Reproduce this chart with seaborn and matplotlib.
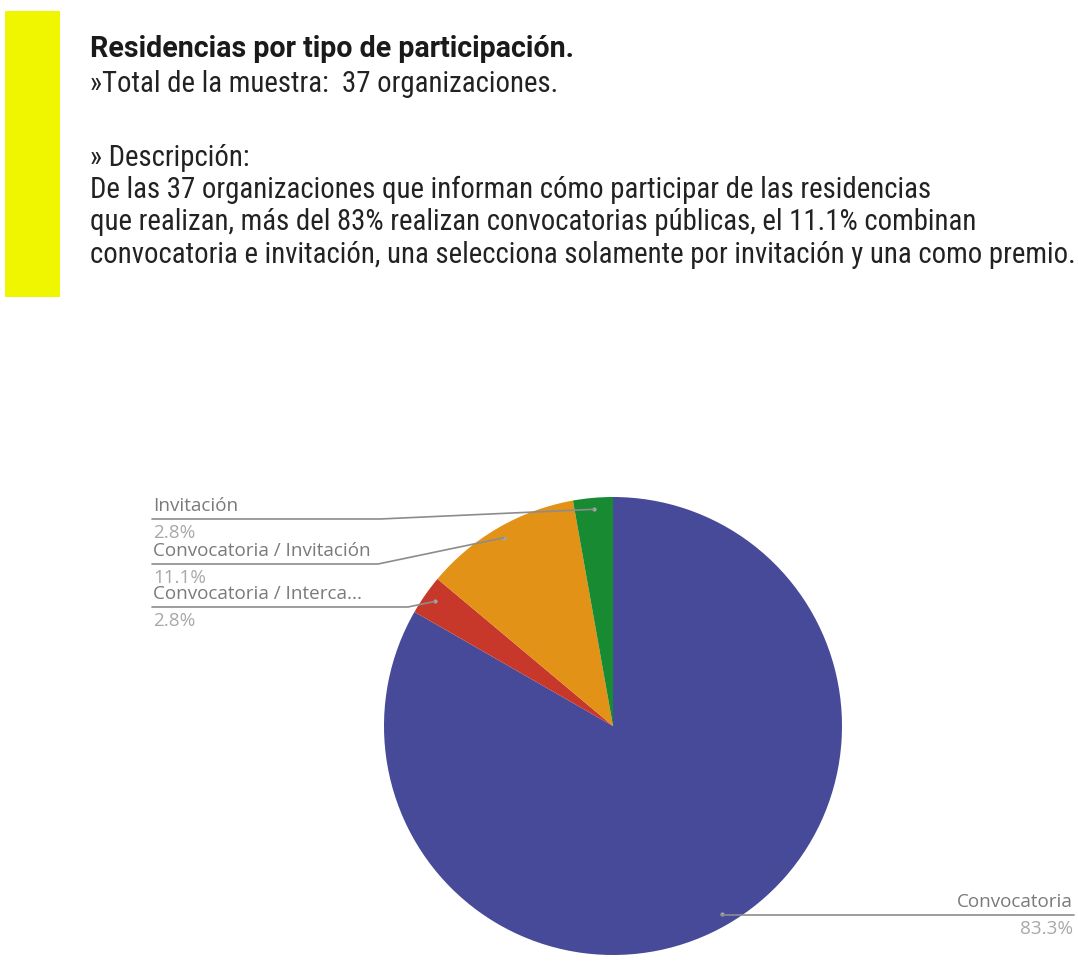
import matplotlib
matplotlib.use("Agg")
import matplotlib.pyplot as plt
import seaborn as sns
import numpy as np

sns.set_theme(style="white")
plt.rcParams['font.family'] = ['Roboto Condensed', 'DejaVu Sans']

# ---- data ----
categories = ["Convocatoria", "Convocatoria / Interca...", "Convocatoria / Invitación", "Invitación"]
percentages = [83.3, 2.8, 11.1, 2.8]
colors = ["#464A98", "#C8382A", "#E19217", "#178A32"]

title = "Residencias por tipo de participación."
subtitle = "»Total de la muestra:  37 organizaciones."
desc_head = "» Descripción:"
desc_lines = [
    "De las 37 organizaciones que informan cómo participar de las residencias",
    "que realizan, más del 83% realizan convocatorias públicas, el 11.1% combinan",
    "convocatoria e invitación, una selecciona solamente por invitación y una como premio.",
]

W, H = 1078, 978
fig = plt.figure(figsize=(W / 100, H / 100), dpi=100)
ax = fig.add_axes([0, 0, 1, 1])
ax.set_xlim(0, W)
ax.set_ylim(0, H)
ax.set_aspect("equal")
ax.axis("off")

def Y(y):
    return H - y

# yellow bar
ax.add_patch(plt.Rectangle((5, Y(298)), 55, 286, color="#F0F500", lw=0))

body_fs = 20.7
ax.text(90, Y(57), title, fontsize=20.6, fontweight="bold", color="#1a1a1a", va="baseline",
        family=["Roboto", "DejaVu Sans"])
ax.text(90, Y(92), subtitle, fontsize=body_fs, color="#222222", va="baseline")
ax.text(90, Y(166), desc_head, fontsize=body_fs, color="#222222", va="baseline")
for i, line in enumerate(desc_lines):
    ax.text(90, Y(198 + 32.5 * i), line, fontsize=body_fs, color="#222222", va="baseline")

# pie
cx, cy, r = 613, Y(727), 229
wedges, _ = ax.pie(percentages, colors=colors, startangle=90, counterclock=False,
                   center=(cx, cy), radius=r, wedgeprops=dict(linewidth=0))
ax.set_xlim(0, W)
ax.set_ylim(0, H)

label_lines_y = {"Invitación": 520, "Convocatoria / Invitación": 565, "Convocatoria / Interca...": 608}
bend_x = {"Invitación": 380, "Convocatoria / Invitación": 378, "Convocatoria / Interca...": 408}
lc = "#8c8c8c"
lab_font = ["Open Sans", "DejaVu Sans"]
lab_fs = 13.6
for w, cat, pct in zip(wedges, categories, percentages):
    mid = np.deg2rad((w.theta1 + w.theta2) / 2)
    dx, dy = cx + 0.95 * r * np.cos(mid), cy + 0.95 * r * np.sin(mid)
    ax.plot([dx], [dy], "o", ms=3, color="#a0aaa5", mec="none")
    if cat == "Convocatoria":
        ly = Y(916)
        ax.plot([dx, 1074], [ly, ly], color=lc, lw=1.2)
        ax.text(1073, ly + 5, cat, fontsize=lab_fs, color="#7a7a7a", ha="right", va="bottom",
                family=lab_font)
        ax.text(1073, ly - 4, f"{pct}%", fontsize=lab_fs, color="#a8a8a8", ha="right", va="top",
                family=lab_font)
    else:
        ly = Y(label_lines_y[cat])
        bx = bend_x[cat]
        ax.plot([152, bx, dx], [ly, ly, dy], color=lc, lw=1.2)
        ax.text(153, ly + 5, cat, fontsize=lab_fs, color="#7a7a7a", ha="left", va="bottom",
                family=lab_font)
        ax.text(153, ly - 4, f"{pct}%", fontsize=lab_fs, color="#a8a8a8", ha="left", va="top",
                family=lab_font)

fig.savefig("out.png", dpi=100)
